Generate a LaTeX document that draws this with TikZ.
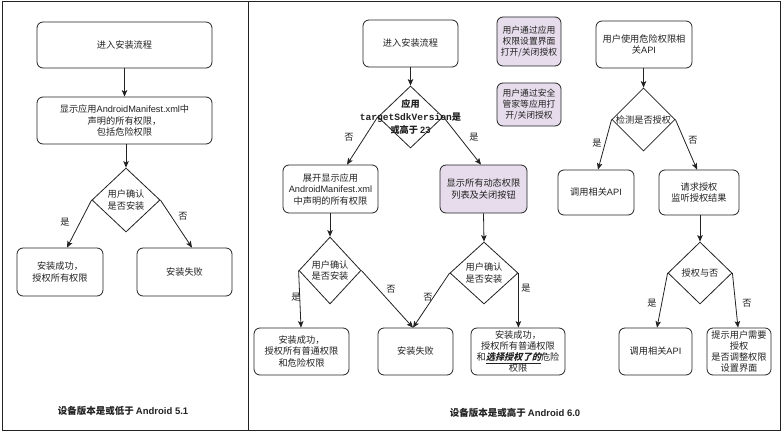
\documentclass[tikz,border=0pt]{standalone}
\usepackage{fontspec}
\setmainfont{Noto Sans CJK SC}
\newfontfamily\lat{Liberation Sans}
\setmonofont{Liberation Mono}
\newfontfamily\cjksl{Noto Sans CJK SC}[FakeSlant=0.25]
\usetikzlibrary{arrows.meta,shapes.geometric}
\definecolor{purpleA}{HTML}{E6DCEB}
\definecolor{ink}{HTML}{222222}
\begin{document}
\begin{tikzpicture}[x=1pt,y=-1pt,
 box/.style={draw=ink, rounded corners=6pt, line width=0.8pt, align=center, inner sep=1pt, font=\fontsize{9.2}{11.5}\selectfont, text=ink},
 pbox/.style={box, fill=purpleA},
 dia/.style={draw=ink, diamond, line width=0.8pt, inner sep=0pt},
 dtxt/.style={align=center, inner sep=0pt, font=\fontsize{9.2}{11.5}\selectfont, text=ink},
 arr/.style={-{Stealth[length=6.5pt,width=5.5pt,inset=1.5pt]}, line width=0.8pt, draw=ink},
 lbl/.style={inner sep=0pt, font=\fontsize{9.2}{11}\selectfont, text=ink},
 ttl/.style={inner sep=0pt, font=\fontsize{9.5}{11}\selectfont\bfseries, text=ink}
]
\useasboundingbox[fill=white] (0,0) rectangle (783,433);
% frame
\draw[ink, line width=1pt] (2,2) rectangle (780,430);
\draw[ink, line width=1pt] (248,2) -- (248,430);

% ---------- left panel ----------
\node[box, minimum width=175pt, minimum height=46pt] (b1) at (124.5,45) {进入安装流程};
\node[box, minimum width=175pt, minimum height=47pt] (b2) at (124.5,120.5) {显示应用{\lat AndroidManifest.xml}中\\声明的所有权限，\\包括危险权限};
\node[dia, minimum width=68pt, minimum height=64pt] (d1) at (126,200) {};
\node[dtxt] (d1t) at (d1) {用户确认\\是否安装};
\node[box, minimum width=86pt, minimum height=48pt] (b3) at (60,272) {安装成功，\\授权所有权限};
\node[box, minimum width=95pt, minimum height=48pt] (b4) at (184.5,272) {安装失败};
\draw[arr] (b1) -- (b2);
\draw[arr] (b2.south -| d1.north) -- (d1.north);
\draw[arr] (d1.west) -- ([xshift=7pt]b3.north);
\draw[arr] (d1.east) -- ([xshift=7.5pt]b4.north);
\node[lbl] (l1) at (65,222) {是};
\node[lbl] (l2) at (183,216) {否};
\node[ttl] (t1) at (123,411) {设备版本是或低于 {\lat\bfseries Android 5.1}};

% ---------- middle ----------
\node[box, minimum width=95pt, minimum height=47pt] (r1) at (410.5,43.5) {进入安装流程};
\node[dia, minimum width=65pt, minimum height=62pt] (d2) at (410.5,117) {};
\node[dtxt, font=\fontsize{9.2}{13}\selectfont\bfseries] (d2t) at (d2) {应用\\{\ttfamily\bfseries\fontsize{9.6}{13}\selectfont targetSdkVersion}是\\或高于 {\lat\bfseries 23}};
\node[box, minimum width=95pt, minimum height=48pt] (r2) at (330.5,189) {展开显示应用\\{\lat AndroidManifest.xml}\\中声明的所有权限};
\node[pbox, minimum width=87pt, minimum height=48pt] (r3) at (483.5,189) {显示所有动态权限\\列表及关闭按钮};
\draw[arr] (r1) -- (d2);
\draw[arr] (d2.west) -- ([xshift=16.5pt]r2.north);
\draw[arr] (d2.east) -- ([xshift=-2.5pt]r3.north);
\node[lbl] (l3) at (349,137) {否};
\node[lbl] (l4) at (474,137) {是};

\node[dia, minimum width=62pt, minimum height=67pt] (d3) at (330,270.5) {};
\node[dtxt] (d3t) at (d3) {用户确认\\是否安装};
\node[dia, minimum width=68pt, minimum height=62pt] (d4) at (484,273) {};
\node[dtxt] (d4t) at (d4) {用户确认\\是否安装};
\node[box, minimum width=95pt, minimum height=47pt] (r4) at (301.5,351.5) {安装成功，\\授权所有普通权限\\和危险权限};
\node[box, minimum width=75pt, minimum height=47pt] (r5) at (415.5,351.5) {安装失败};
\node[box, minimum width=94pt, minimum height=47pt, font=\fontsize{9.2}{10.8}\selectfont] (r6) at (518,351.5) {安装成功，\\授权所有普通权限\\和\underline{\cjksl\bfseries 选择授权了的}危险\\权限};
\draw[arr] (r2.south -| d3.north) -- (d3.north);
\draw[arr] (r3.south) -- (d4.north);
\draw[arr] (d3.west) -- ([xshift=-0.5pt]r4.north);
\draw[arr] (d3.east) -- ([xshift=-2.5pt]r5.north);
\draw[arr] (d4.west) -- ([xshift=-2.5pt]r5.north);
\draw[arr] (d4.east) -- (d4.east |- r6.north);
\node[lbl] (l5) at (296,297) {是};
\node[lbl] (l6) at (391,289) {否};
\node[lbl] (l7) at (428,297) {否};
\node[lbl] (l8) at (526,288) {是};

\node[pbox, minimum width=64pt, minimum height=49pt, font=\fontsize{8.8}{11}\selectfont] (p1) at (529,41.5) {用户通过应用\\权限设置界面\\打开/关闭授权};
\node[pbox, minimum width=64pt, minimum height=43pt, font=\fontsize{8.8}{11}\selectfont] (p2) at (529,104.5) {用户通过安全\\管家等应用打\\开/关闭授权};

% ---------- right column ----------
\node[box, minimum width=96pt, minimum height=47pt] (r7) at (644,44.5) {用户使用危险权限相\\关{\lat API}};
\node[dia, minimum width=63pt, minimum height=63pt] (d5) at (643.5,119.5) {};
\node[dtxt] (d5t) at (d5) {检测是否授权};
\node[box, minimum width=76pt, minimum height=45pt] (r8) at (596,192.5) {调用相关{\lat API}};
\node[box, minimum width=80pt, minimum height=45pt] (r9) at (699,192.5) {请求授权\\监听授权结果};
\draw[arr] (r7.south -| d5.north) -- (d5.north);
\draw[arr] (d5.west) -- ([xshift=2pt]r8.north);
\draw[arr] (d5.east) -- ([xshift=-2pt]r9.north);
\node[lbl] (l9) at (597,143) {是};
\node[lbl] (l10) at (693,140) {否};

\node[dia, minimum width=64pt, minimum height=62pt] (d6) at (700,273) {};
\node[dtxt] (d6t) at (d6) {授权与否};
\node[box, minimum width=73pt, minimum height=47pt] (r10) at (655.5,351.5) {调用相关{\lat API}};
\node[box, minimum width=64pt, minimum height=47pt, font=\fontsize{9.2}{10.8}\selectfont] (r11) at (739,351.5) {提示用户需要\\授权\\是否调整权限\\设置界面};
\draw[arr] (r9.south -| d6.north) -- (d6.north);
\draw[arr] (d6.west) -- ([xshift=1.5pt]r10.north);
\draw[arr] (d6.east) -- ([xshift=-1pt]r11.north);
\node[lbl] (l11) at (652,303) {是};
\node[lbl] (l12) at (747,303) {否};

\node[ttl] (t2) at (515,413) {设备版本是或高于 {\lat\bfseries Android 6.0}};
\end{tikzpicture}
\end{document}
